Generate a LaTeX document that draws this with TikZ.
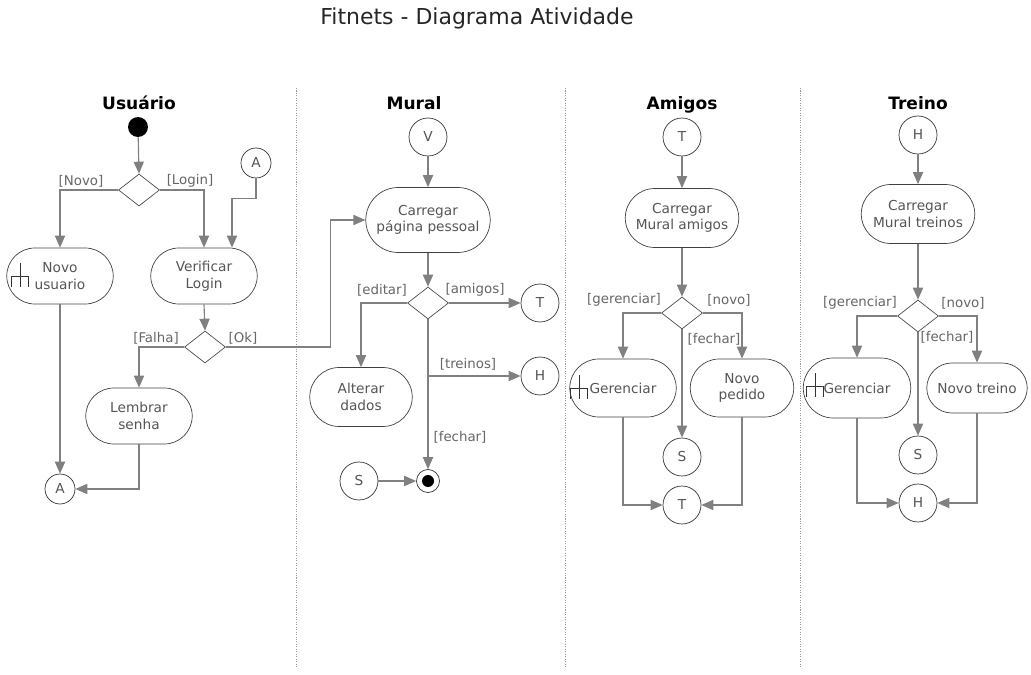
\documentclass[tikz,border=0pt]{standalone}
\usepackage{fontspec}
\setmainfont{DejaVu Sans}
\usetikzlibrary{arrows.meta,shapes.geometric,shapes.misc,positioning}
\definecolor{flowgray}{RGB}{128,128,128}
\definecolor{txtgray}{RGB}{85,85,85}
\tikzset{
    rakeicon/.pic={\draw[black!80, line width=0.5pt] (0,-13) -- (0,11) (-9,11) -- (-9,0) -- (8,0) -- (8,11);}
}

\begin{document}
\begin{tikzpicture}[
    x=0.02cm, y=-0.02cm,
    every node/.append style={font=\fontsize{7.8}{9.4}\selectfont, text=txtgray},
    action/.style={rounded rectangle, draw=black!75, line width=0.4pt, minimum width=2.2cm, minimum height=1.12cm, align=center, inner sep=1pt},
    decision/.style={diamond, draw=black!70, line width=0.4pt, minimum width=0.82cm, minimum height=0.64cm, inner sep=0pt},
    conn/.style={circle, draw=black!80, line width=0.4pt, minimum size=0.76cm, inner sep=0pt},
    smallconn/.style={conn, minimum size=0.6cm},
    lane/.style={font=\fontsize{9.7}{11}\selectfont\bfseries, text=black, anchor=base},
    guard/.style={font=\fontsize{7.6}{9}\selectfont, text=black!60, inner sep=0pt},
    flow/.style={draw=flowgray, line width=0.65pt, -{Triangle[length=6.8pt,width=5.8pt]}},
    divider/.style={draw=black!40, dash pattern=on 0.6pt off 0.8pt, line width=0.5pt}
]
    \useasboundingbox (0,0) rectangle (1031,675);

    % Titulo
    \node[font=\fontsize{12.5}{14}\selectfont, text=black!85] (titulo) at (477,18) {Fitnets - Diagrama Atividade};

    % Raias
    \draw[divider] (296,88) -- (296,668);
    \draw[divider] (565,88) -- (565,668);
    \draw[divider] (800,88) -- (800,668);

    % Raia Usuario
    \node[lane] (hdrUsuario) at (139,110) {Usuário};
    \node[circle, fill=black, minimum size=0.4cm, inner sep=0pt] (inicio) at (138,127) {};
    \node[decision] (decLogin) at (139,190) {};
    \node[smallconn] (conA) at (256,163) {A};
    \node[action] (novoUsuario) at (60,276) {Novo\\usuario};
    \pic at (20,276) {rakeicon};
    \node[action] (verificar) at (204,276) {Verificar\\Login};
    \node[decision] (decVerif) at (205,347) {};
    \node[action] (lembrar) at (139,416) {Lembrar\\senha};
    \node[smallconn] (conAfim) at (60,489) {A};

    \draw[flow] (inicio) -- (decLogin.north);
    \draw[flow] (decLogin.west) -| (novoUsuario.north);
    \draw[flow] (decLogin.east) -| (verificar.north);
    \draw[flow] (conA.south) -- ++(0,20) -| ([xshift=0.56cm]verificar.north);
    \draw[flow] (verificar.south) -- (decVerif.north);
    \draw[flow] (decVerif.west) -| (lembrar.north);
    \draw[flow] (novoUsuario.south) -- (conAfim.north);
    \draw[flow] (lembrar.south) |- (conAfim.east);

    \node[guard] (gNovo) at (81,181) {[Novo]};
    \node[guard] (gLogin) at (190,181) {[Login]};
    \node[guard] (gFalha) at (156,338) {[Falha]};
    \node[guard] (gOk) at (243,338) {[Ok]};

    % Raia Mural
    \node[lane] (hdrMural) at (414,110) {Mural};
    \node[conn] (conV) at (428,137) {V};
    \node[action, minimum width=2.56cm, minimum height=1.3cm] (carregarPessoal) at (428,220) {Carregar\\página pessoal};
    \node[decision] (decMural) at (428,303) {};
    \node[action, minimum width=2.12cm, minimum height=1.18cm] (alterar) at (361,397) {Alterar\\dados};
    \node[conn] (conTmural) at (540,303) {T};
    \node[conn] (conHmural) at (540,376) {H};
    \node[circle, draw=black!80, line width=0.4pt, minimum size=0.46cm, inner sep=0pt] (fim) at (428,481) {};
    \node[circle, fill=black, minimum size=0.24cm, inner sep=0pt] (fimPonto) at (fim) {};
    \node[conn] (conSmural) at (359,481) {S};

    \draw[flow] (decVerif.east) -- ++(105,0) |- (carregarPessoal.west);
    \draw[flow] (conV.south) -- (carregarPessoal.north);
    \draw[flow] (carregarPessoal.south) -- (decMural.north);
    \draw[flow] (decMural.west) -| (alterar.north);
    \draw[flow] (decMural.east) -- (conTmural.west);
    \draw[flow] (decMural.south) -- (fim.north);
    \draw[flow] (decMural.south |- conHmural.west) -- (conHmural.west);
    \draw[flow] (conSmural.east) -- (fim.west);

    \node[guard] (gEditar) at (382,290) {[editar]};
    \node[guard] (gAmigos) at (475,290) {[amigos]};
    \node[guard] (gTreinos) at (468,364) {[treinos]};
    \node[guard] (gFecharM) at (460,437) {[fechar]};

    % Raia Amigos
    \node[lane] (hdrAmigos) at (682,110) {Amigos};
    \node[conn] (conTamigos) at (682,137) {T};
    \node[action, minimum width=2.34cm, minimum height=1.18cm] (carregarAmigos) at (682,218) {Carregar\\Mural amigos};
    \node[decision] (decAmigos) at (682,313) {};
    \node[action, minimum height=1.16cm] (gerAmigos) at (623,388) {Gerenciar};
    \pic at (579,388) {rakeicon};
    \node[action, minimum width=2.14cm, minimum height=1.16cm] (novoPedido) at (742,388) {Novo\\pedido};
    \node[conn] (conSamigos) at (682,457) {S};
    \node[conn] (conTamigosFim) at (682,505) {T};

    \draw[flow] (conTamigos.south) -- (carregarAmigos.north);
    \draw[flow] (carregarAmigos.south) -- (decAmigos.north);
    \draw[flow] (decAmigos.west) -| (gerAmigos.north);
    \draw[flow] (decAmigos.east) -| (novoPedido.north);
    \draw[flow] (decAmigos.south) -- (conSamigos.north);
    \draw[flow] (gerAmigos.south) |- (conTamigosFim.west);
    \draw[flow] (novoPedido.south) |- (conTamigosFim.east);

    \node[guard] (gGerA) at (624,300) {[gerenciar]};
    \node[guard] (gNovoA) at (729,300) {[novo]};
    \node[guard] (gFecharA) at (714,339) {[fechar]};

    % Raia Treino
    \node[lane] (hdrTreino) at (918,110) {Treino};
    \node[conn] (conHtreino) at (918,135) {H};
    \node[action, minimum width=2.34cm, minimum height=1.18cm] (carregarTreinos) at (918,214) {Carregar\\Mural treinos};
    \node[decision] (decTreino) at (918,316) {};
    \node[action, minimum width=2.22cm, minimum height=1.2cm] (gerTreino) at (857,388) {Gerenciar};
    \pic at (815,386) {rakeicon};
    \node[action, minimum width=2.08cm, minimum height=1.0cm] (novoTreino) at (977,388) {Novo treino};
    \node[conn] (conStreino) at (918,455) {S};
    \node[conn] (conHtreinoFim) at (918,503) {H};

    \draw[flow] (conHtreino.south) -- (carregarTreinos.north);
    \draw[flow] (carregarTreinos.south) -- (decTreino.north);
    \draw[flow] (decTreino.west) -| (gerTreino.north);
    \draw[flow] (decTreino.east) -| (novoTreino.north);
    \draw[flow] (decTreino.south) -- (conStreino.north);
    \draw[flow] (gerTreino.south) |- (conHtreinoFim.west);
    \draw[flow] (novoTreino.south) |- (conHtreinoFim.east);

    \node[guard] (gGerT) at (860,303) {[gerenciar]};
    \node[guard] (gNovoT) at (963,303) {[novo]};
    \node[guard] (gFecharT) at (947,337) {[fechar]};

\end{tikzpicture}
\end{document}
